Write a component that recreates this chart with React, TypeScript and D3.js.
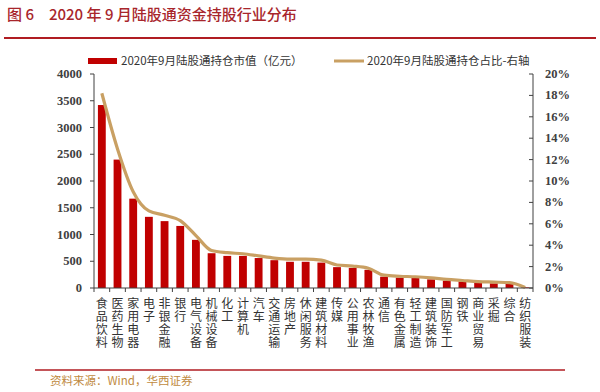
import React from 'react';
import * as d3 from 'd3';

// 2020年9月陆股通持仓 by industry
const categories = [
  '食品饮料', '医药生物', '家用电器', '电子', '非银金融', '银行', '电气设备',
  '机械设备', '化工', '计算机', '汽车', '交通运输', '房地产', '休闲服务',
  '建筑材料', '传媒', '公用事业', '农林牧渔', '通信', '有色金属', '轻工制造',
  '建筑装饰', '国防军工', '钢铁', '商业贸易', '采掘', '综合', '纺织服装',
];
// 持仓市值（亿元）
const marketValue = [
  3420, 2400, 1670, 1330, 1250, 1160, 900, 650, 600, 600, 560, 520, 490, 490,
  475, 390, 375, 340, 212, 195, 187, 162, 137, 118, 100, 87, 75, 12,
];
// 持仓占比 (%), right axis
const share = [
  18.2, 13.0, 9.0, 7.2, 6.8, 6.3, 4.9, 3.5, 3.3, 3.2, 3.0, 2.8, 2.7, 2.7,
  2.6, 2.15, 2.05, 1.85, 1.2, 1.1, 1.05, 0.95, 0.8, 0.7, 0.6, 0.55, 0.5, 0.05,
];
const leftTicks = [0, 500, 1000, 1500, 2000, 2500, 3000, 3500, 4000];
const rightTicks = [0, 2, 4, 6, 8, 10, 12, 14, 16, 18, 20];

const W = 600, H = 392;
const m = { left: 94, right: 533, top: 74, bottom: 288 };
const barColor = '#C00000';
const lineColor = '#C9A063';
const axisColor = '#404040';
const numFont = '"Liberation Serif", "DejaVu Serif", serif';
const cjkFont = '"Noto Sans CJK SC", "Noto Sans", sans-serif';

const App = () => {
  const xb = d3.scaleBand<string>().domain(categories).range([m.left, m.right]);
  const yL = d3.scaleLinear().domain([0, 4000]).range([m.bottom, m.top]);
  const yR = d3.scaleLinear().domain([0, 20]).range([m.bottom, m.top]);
  const cxOf = (i: number) => (xb(categories[i]) as number) + xb.bandwidth() / 2;

  const line = d3.line<number>()
    .x((_, i) => cxOf(i))
    .y(d => yR(d))
    .curve(d3.curveMonotoneX);

  return (
    <svg width={W} height={H} style={{ position: 'absolute', left: 0, top: 0, background: '#fff' }}>
      {/* title */}
      <text x={7} y={20} fontFamily={cjkFont} fontSize={15} fontWeight={500} fill="#A8262C">
        图 6{'\u2002\u2002'}2020 年 9 月陆股通资金持股行业分布
      </text>
      <line x1={4} x2={596} y1={38} y2={38} stroke="#B01C22" strokeWidth={2} />

      {/* legend */}
      <rect x={88} y={58} width={29} height={6} fill={barColor} />
      <text x={121} y={65} fontFamily={cjkFont} fontSize={11.5} fill="#333">2020年9月陆股通持仓市值（亿元）</text>
      <line x1={334} x2={364} y1={61} y2={61} stroke={lineColor} strokeWidth={3} />
      <text x={367} y={65} fontFamily={cjkFont} fontSize={11.5} fill="#333">2020年9月陆股通持仓占比-右轴</text>

      {/* bars */}
      {marketValue.map((v, i) => {
        const bw = xb.bandwidth() * 0.5;
        return <rect key={i} x={cxOf(i) - bw / 2} y={yL(v)} width={bw} height={m.bottom - yL(v)} fill={barColor} />;
      })}

      {/* line */}
      <path d={line(share) || ''} fill="none" stroke={lineColor} strokeWidth={3.2} strokeLinejoin="round" />

      {/* left axis */}
      <line x1={m.left} x2={m.left} y1={m.top} y2={m.bottom} stroke={axisColor} />
      {leftTicks.map(t => (
        <g key={t}>
          <line x1={m.left - 4} x2={m.left} y1={yL(t)} y2={yL(t)} stroke={axisColor} />
          <text x={m.left - 12} y={yL(t) + 4} textAnchor="end" fontFamily={numFont} fontWeight="bold" fontSize={12.5} fill={axisColor}>{t}</text>
        </g>
      ))}

      {/* right axis */}
      <line x1={m.right} x2={m.right} y1={m.top} y2={m.bottom} stroke={axisColor} />
      {rightTicks.map(t => (
        <g key={t}>
          <line x1={m.right - 4} x2={m.right} y1={yR(t)} y2={yR(t)} stroke={axisColor} />
          <text x={m.right + 12} y={yR(t) + 4} fontFamily={numFont} fontWeight="bold" fontSize={12.5} fill={axisColor}>{t}%</text>
        </g>
      ))}

      {/* x axis, vertical labels */}
      <line x1={m.left} x2={m.right} y1={m.bottom} y2={m.bottom} stroke={axisColor} />
      {categories.map((c, i) => {
        const x0 = xb(c) as number;
        return (
          <g key={c}>
            <line x1={x0} x2={x0} y1={m.bottom} y2={m.bottom + 4} stroke={axisColor} />
            <text x={cxOf(i)} y={297} fontFamily={cjkFont} fontSize={12} fill="#333"
              style={{ writingMode: 'vertical-rl', textOrientation: 'upright', letterSpacing: '1px' }}>
              {c}
            </text>
          </g>
        );
      })}
      <line x1={m.right} x2={m.right} y1={m.bottom} y2={m.bottom + 4} stroke={axisColor} />

      {/* source */}
      <line x1={35} x2={565} y1={370} y2={370} stroke="#B01C22" strokeWidth={1.5} />
      <text x={50} y={385} fontFamily={cjkFont} fontSize={11.5} fill="#C08A3E">资料来源：Wind，华西证券</text>
    </svg>
  );
};

export default App;
